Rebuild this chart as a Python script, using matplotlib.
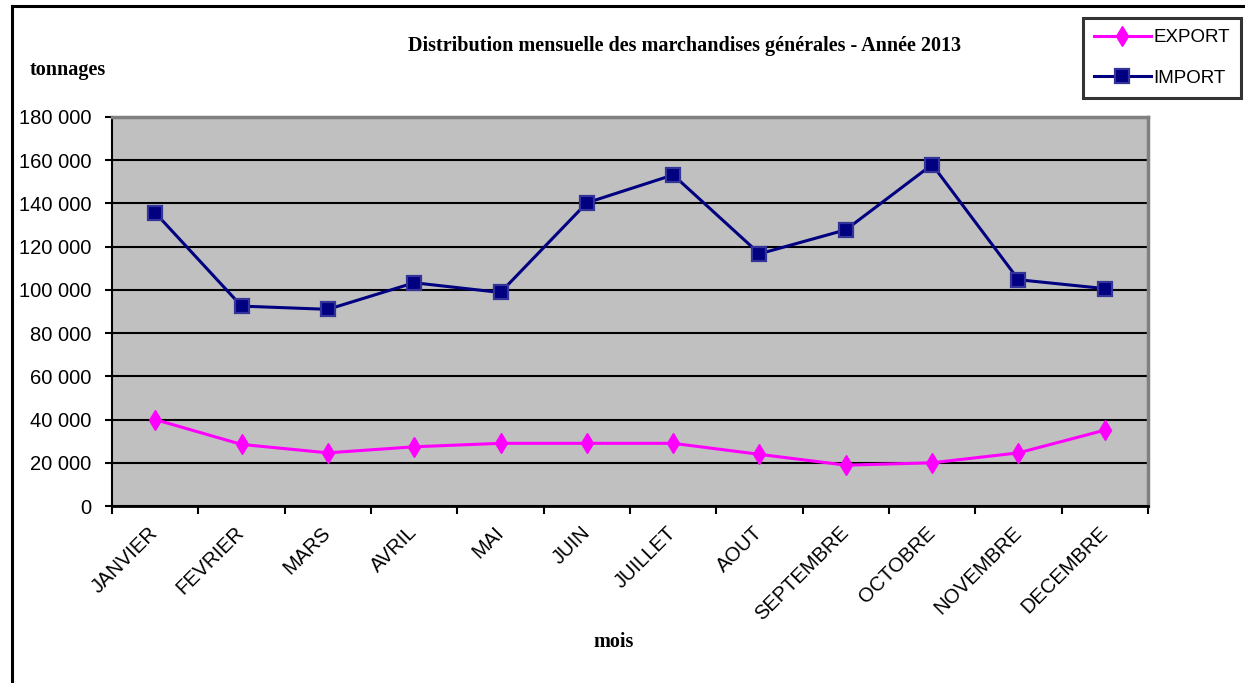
import matplotlib
matplotlib.use('Agg')
import matplotlib.pyplot as plt
from matplotlib.lines import Line2D
from matplotlib.ticker import FuncFormatter, FixedLocator
from matplotlib.transforms import ScaledTranslation

# data (tonnages)
months = ['JANVIER', 'FEVRIER', 'MARS', 'AVRIL', 'MAI', 'JUIN', 'JUILLET',
          'AOUT', 'SEPTEMBRE', 'OCTOBRE', 'NOVEMBRE', 'DECEMBRE']
export_t = [40000, 28500, 24600, 27400, 29000, 29000, 29000,
            23900, 18900, 20000, 24600, 35100]
import_t = [135700, 92500, 91000, 103300, 98800, 140300, 153200,
            116700, 127800, 158000, 104700, 100600]

SANS = ['Liberation Sans', 'DejaVu Sans']
SERIF = ['Liberation Serif', 'DejaVu Serif']

fig = plt.figure(figsize=(12.45, 6.83), dpi=100)
W, H = 1245, 683
ax = fig.add_axes([112 / W, 1 - 506 / H, (1148 - 112) / W, (506 - 117) / H])
ax.set_facecolor('#C0C0C0')

x = list(range(len(months)))
l_exp, = ax.plot(x, export_t, color='#FF00FF', lw=2.2, marker='d', markersize=10,
                 markerfacecolor='#FF00FF', markeredgecolor='#FF00FF', label='EXPORT', zorder=3)
l_imp, = ax.plot(x, import_t, color='#000080', lw=2.2, marker='s', markersize=10,
                 markerfacecolor='#000080', markeredgecolor='#333399', markeredgewidth=1.6,
                 label='IMPORT', zorder=4)

ax.set_xlim(-0.5, len(months) - 0.5)
ax.set_ylim(0, 180000)
ax.set_yticks(range(0, 180001, 20000))
ax.yaxis.set_major_formatter(FuncFormatter(lambda v, p: '{:,}'.format(int(v)).replace(',', ' ')))
ax.grid(axis='y', color='black', lw=1.5)
ax.set_axisbelow(True)

for s in ['top', 'right']:
    ax.spines[s].set_color('#808080')
    ax.spines[s].set_linewidth(2.5)
ax.spines['left'].set_linewidth(1.5)
ax.spines['bottom'].set_linewidth(2)

ax.tick_params(axis='y', length=5, width=1.5, pad=10, labelsize=14.5)
for t in ax.get_yticklabels():
    t.set_fontfamily(SANS)

# month labels at centres, tick marks at category boundaries
ax.set_xticks(x)
ax.set_xticklabels(months, rotation=45, ha='right', va='center', rotation_mode='anchor',
                   fontsize=14.5, family=SANS)
ax.tick_params(axis='x', which='major', length=0, pad=17)
ax.xaxis.set_minor_locator(FixedLocator([i - 0.5 for i in range(len(months) + 1)]))
ax.tick_params(axis='x', which='minor', length=6, width=1.5)
off = ScaledTranslation(0 / 100, 0, fig.dpi_scale_trans)
for t in ax.get_xticklabels():
    t.set_transform(t.get_transform() + off)

fig.text(685 / W, 1 - 46 / H, 'Distribution mensuelle des marchandises générales - Année 2013',
         ha='center', va='center', fontsize=14.5, fontweight='bold', family=SERIF)
fig.text(30 / W, 1 - 70 / H, 'tonnages', ha='left', va='center', fontsize=14.5,
         fontweight='bold', family=SERIF)
fig.text(614 / W, 1 - 642 / H, 'mois', ha='center', va='center', fontsize=14.5,
         fontweight='bold', family=SERIF)

leg = fig.legend(handles=[l_exp, l_imp], loc='upper left', bbox_to_anchor=(1083 / W, 1 - 18 / H),
                 borderaxespad=0, frameon=True, fancybox=False, edgecolor='black',
                 handlelength=3.0, handletextpad=0.15, labelspacing=1.25, borderpad=0.6,
                 prop={'family': SANS, 'size': 13.5})
leg.get_frame().set_linewidth(2.2)

# outer chart frame (left and top edges only visible)
fig.add_artist(Line2D([12 / W, 12 / W], [0, 1 - 6 / H], color='black', lw=2.2))
fig.add_artist(Line2D([12 / W, 1], [1 - 6 / H, 1 - 6 / H], color='black', lw=2.2))

fig.savefig('out.png', dpi=100)
